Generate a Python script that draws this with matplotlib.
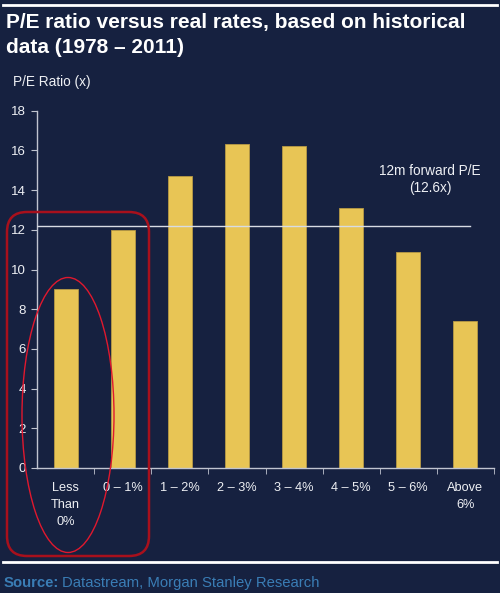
import matplotlib
matplotlib.use('Agg')
import matplotlib.pyplot as plt
from matplotlib.patches import FancyBboxPatch, Ellipse
from matplotlib.lines import Line2D

categories = ['Less\nThan\n0%', '0 – 1%', '1 – 2%', '2 – 3%', '3 – 4%',
              '4 – 5%', '5 – 6%', 'Above\n6%']
pe_ratio = [9.0, 12.0, 14.7, 16.3, 16.2, 13.1, 10.9, 7.4]
forward_pe = 12.2
forward_label = '12m forward P/E\n(12.6x)'

W, H = 500, 593
bg = '#162140'
bar_col = '#E8C555'
fg = '#EEF0F4'

plt.rcParams['font.family'] = ['Liberation Sans', 'DejaVu Sans']

fig = plt.figure(figsize=(W / 100, H / 100), dpi=100, facecolor=bg)

def px(x, y):
    return x / W, 1 - y / H

# header / footer rules
fig.add_artist(Line2D([3 / W, 497 / W], [1 - 5 / H] * 2, color='white', lw=2))
fig.add_artist(Line2D([3 / W, 497 / W], [1 - 562 / H] * 2, color='white', lw=2))

fig.text(*px(6, 13), 'P/E ratio versus real rates, based on historical\ndata (1978 – 2011)',
         color='white', fontsize=15, fontweight='bold', va='top', ha='left',
         linespacing=1.4)
fig.text(*px(13, 82), 'P/E Ratio (x)', color=fg, fontsize=9.8, va='center', ha='left')

fig.text(*px(4, 583), 'Source:', color='#3A7DB5', fontsize=10.7, fontweight='bold',
         va='center', ha='left')
fig.text(*px(62, 583), 'Datastream, Morgan Stanley Research', color='#3A7DB5',
         fontsize=10.7, va='center', ha='left')

left, right, top, bottom = 37, 494, 110.7, 468
ax = fig.add_axes([left / W, 1 - bottom / H, (right - left) / W, (bottom - top) / H])
ax.set_facecolor(bg)

x = list(range(len(categories)))
ax.bar(x, pe_ratio, width=0.42, color=bar_col, edgecolor='#B89A45', linewidth=0.6,
       zorder=2)
ax.plot([-0.5, 7.08], [forward_pe, forward_pe], color='#D8DCE4', lw=1, zorder=3)
ax.text(6.38, 14.55, forward_label, color=fg, fontsize=9.8, ha='center', va='center',
        linespacing=1.3)

ax.set_xlim(-0.5, 7.5)
ax.set_ylim(0, 18)
ax.set_yticks(range(0, 19, 2))
ax.set_xticks(x)
ax.set_xticklabels(categories, color=fg, fontsize=9.2, linespacing=1.55)
ax.set_xticks([i - 0.5 for i in range(1, 9)], minor=True)
ax.tick_params(axis='x', which='major', length=0, pad=10)
ax.tick_params(axis='x', which='minor', length=4, color='#C0C4D0', direction='out')
ax.tick_params(axis='y', length=4, color='#C0C4D0', labelcolor=fg, labelsize=9.5, pad=4)
for s in ['top', 'right']:
    ax.spines[s].set_visible(False)
for s in ['left', 'bottom']:
    ax.spines[s].set_color('#C0C4D0')
    ax.spines[s].set_linewidth(1)

# red call-out shapes, figure pixel coordinates
rect = FancyBboxPatch((7 / W, 1 - 556 / H), (149 - 7) / W, (556 - 212) / H,
                      boxstyle='round,pad=0,rounding_size=0.04',
                      transform=fig.transFigure, fill=False, edgecolor='#A8101C',
                      lw=1.8, mutation_aspect=W / H)
fig.add_artist(rect)
ell = Ellipse((68 / W, 1 - 415 / H), 92 / W, 275 / H, transform=fig.transFigure,
              fill=False, edgecolor='#E0182E', lw=1.0)
fig.add_artist(ell)

fig.savefig('out.png', dpi=100, facecolor=bg)
